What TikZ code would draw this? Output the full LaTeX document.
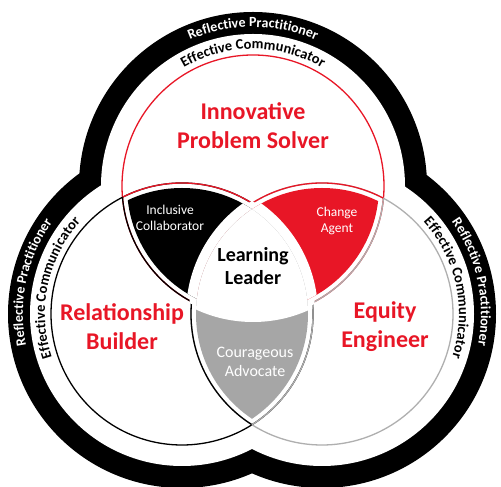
\documentclass[tikz,border=0pt]{standalone}
\usepackage{fontspec}
\setmainfont{Carlito}
\usetikzlibrary{decorations.text}
\definecolor{vred}{RGB}{232,22,38}
\definecolor{vgray}{RGB}{166,166,166}
\definecolor{vline}{RGB}{175,175,175}
\tikzstyle{role} = [font=\fontsize{24}{29}\selectfont\bfseries, text=vred, align=center]
\tikzstyle{lens} = [font=\fontsize{13.5}{16}\selectfont, text=white, align=center]
\tikzstyle{core} = [font=\fontsize{20}{23}\selectfont\bfseries, align=center]
\tikzstyle{ring} = [line width=1.3pt]

\begin{document}
\begin{tikzpicture}[x=1pt, y=1pt]
      \useasboundingbox (0,0) rectangle (501,487);
      \coordinate (ctop) at (253,301);
      \coordinate (cleft) at (182,173);
      \coordinate (cright) at (322,173);

      % outer bands
      \fill (ctop) circle[radius=174] (cleft) circle[radius=174] (cright) circle[radius=174];
      \fill[white] (ctop) circle[radius=152] (cleft) circle[radius=152] (cright) circle[radius=152];

      % circles, arcs inside a circle take its colour
      \draw[ring, vred] (ctop) circle[radius=131];
      \draw[ring, black] (cleft) circle[radius=131];
      \draw[ring, vline] (cright) circle[radius=131];
      \foreach \a/\o/\p/\col in {ctop/cleft/cright/vred, cleft/ctop/cright/black, cright/ctop/cleft/vline} {
        \begin{scope}
          \clip (\a) circle[radius=131];
          \draw[ring, \col] (\o) circle[radius=131] (\p) circle[radius=131];
        \end{scope}
      }
      % no lines round the middle
      \begin{scope}
        \clip (ctop) circle[radius=133];
        \clip (cleft) circle[radius=133];
        \fill[white] (cright) circle[radius=133];
      \end{scope}

      % lenses
      \foreach \a/\b/\c/\col in {ctop/cleft/cright/black, ctop/cright/cleft/vred, cleft/cright/ctop/vgray} {
        \begin{scope}
          \clip (\a) circle[radius=126];
          \clip (\b) circle[radius=126];
          \fill[\col] (\a) circle[radius=140];
          \fill[white] (\c) circle[radius=136];
        \end{scope}
      }

      % band texts
      \foreach \c/\m in {ctop/90, cleft/168, cright/12} {
        \path[decorate, decoration={text along path, text align=center,
            text={|\fontsize{14}{17}\selectfont\bfseries\color{white}|Reflective Practitioner}}]
          (\c) ++({\m+50}:159) arc[start angle=\m+50, end angle=\m-50, radius=159];
        \path[decorate, decoration={text along path, text align=center,
            text={|\fontsize{14.5}{17}\selectfont\bfseries|Effective Communicator}}]
          (\c) ++({\m+50}:137) arc[start angle=\m+50, end angle=\m-50, radius=137];
      }

      \node[role] (solver) at (253,361) {Innovative\\Problem Solver};
      \node[role] (builder) at (122,160) {Relationship\\Builder};
      \node[role] (engineer) at (385,160) {Equity\\Engineer};
      \node[core] (leader) at (253,221) {Learning\\Leader};
      \node[lens] (collab) at (170,269) {Inclusive\\Collaborator};
      \node[lens] (agent) at (337,266) {Change\\Agent};
      \node[lens, font=\fontsize{16}{19}\selectfont] (advocate) at (255,125) {Courageous\\Advocate};
\end{tikzpicture}
\end{document}
